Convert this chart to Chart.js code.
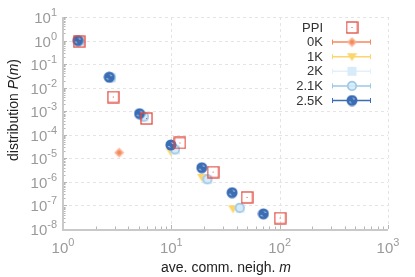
<!DOCTYPE html>
<html>
<head>
<meta charset="utf-8">
<script src="https://cdn.jsdelivr.net/npm/chart.js@4"></script>
<style>
  html, body { margin: 0; padding: 0; background: #fff; }
  #wrap { width: 415px; height: 277px; }
</style>
</head>
<body>
<div id="wrap"><canvas id="c" width="415" height="277"></canvas></div>
<script>
// data
const seriesNames = ['PPI', '0K', '1K', '2K', '2.1K', '2.5K'];

const ppiM = [1.41, 2.91, 5.9, 12.0, 24.3, 50, 101];
const ppiP = [0.9, 4.0e-3, 4.9e-4, 4.5e-5, 2.6e-6, 2.2e-7, 2.9e-8];

const k0M = [1.45, 3.3];
const k0P = [0.9, 1.74e-5];

const k1M = [1.4, 5.4, 9.9, 19.2, 37.1];
const k1P = [0.95, 6.2e-4, 1.9e-5, 1.55e-6, 7.2e-8];

const k2M = [1.43, 2.8, 5.6, 10.9, 21.7, 43.2];
const k2P = [0.93, 0.026, 5.7e-4, 2.3e-5, 1.25e-6, 7.7e-8];

const k21M = [1.42, 2.77, 5.58, 10.8, 21.5, 42.8];
const k21P = [0.95, 0.027, 5.9e-4, 2.4e-5, 1.3e-6, 7.9e-8];

const k25M = [1.37, 2.67, 5.09, 9.9, 19.1, 36.4, 70.8];
const k25P = [1.0, 0.028, 7.9e-4, 3.7e-5, 4.0e-6, 3.5e-7, 4.4e-8];

const xDecades = [0, 1, 2, 3];
const yDecades = [1, 0, -1, -2, -3, -4, -5, -6, -7, -8];

// marker images
function mk(size, draw) {
  const cv = document.createElement('canvas');
  cv.width = size; cv.height = size;
  draw(cv.getContext('2d'), size / 2);
  return cv;
}
const markers = {
  'PPI': mk(13, (g, c) => {
    g.strokeStyle = '#e2493f'; g.lineWidth = 1.3;
    g.strokeRect(1, 1, 11, 11);
    g.fillStyle = '#e2493f'; g.fillRect(c - 0.5, c - 0.5, 1, 1);
  }),
  '0K': mk(11, (g, c) => {
    g.fillStyle = '#fbb493';
    g.beginPath(); g.moveTo(c, 0.5); g.lineTo(10.5, c); g.lineTo(c, 10.5); g.lineTo(0.5, c); g.closePath(); g.fill();
    g.fillStyle = '#f58a5c';
    g.beginPath(); g.arc(c, c, 2.2, 0, Math.PI * 2); g.fill();
  }),
  '1K': mk(11, (g, c) => {
    g.fillStyle = '#fcd66a';
    g.beginPath(); g.moveTo(0.5, 2); g.lineTo(10.5, 2); g.lineTo(c, 10); g.closePath(); g.fill();
  }),
  '2K': mk(11, (g, c) => {
    g.fillStyle = '#d8ebf8';
    g.fillRect(1, 1, 9, 9);
  }),
  '2.1K': mk(12, (g, c) => {
    g.fillStyle = 'rgba(215,234,248,0.85)';
    g.beginPath(); g.arc(c, c, 5.2, 0, Math.PI * 2); g.fill();
    g.strokeStyle = '#95c4e6'; g.lineWidth = 1.4;
    g.beginPath(); g.arc(c, c, 4.2, 0, Math.PI * 2); g.stroke();
  }),
  '2.5K': mk(12, (g, c) => {
    g.fillStyle = '#3a6db4';
    g.beginPath(); g.arc(c, c, 5.5, 0, Math.PI * 2); g.fill();
    g.strokeStyle = '#ffffff'; g.lineWidth = 1;
    g.beginPath(); g.moveTo(c - 2.5, c + 1); g.lineTo(c - 1, c + 2.5); g.stroke();
    g.beginPath(); g.moveTo(c + 1, c - 2.5); g.lineTo(c + 2.5, c - 1); g.stroke();
  })
};
const lineColors = {
  '0K': '#f58a5c', '1K': '#fcd66a', '2K': '#e3f0fa', '2.1K': '#9cc7e6', '2.5K': '#3a6db4'
};

function pts(xs, ys) { return xs.map((x, i) => ({ x: x, y: ys[i] })); }

const seriesData = {
  'PPI': pts(ppiM, ppiP), '0K': pts(k0M, k0P), '1K': pts(k1M, k1P),
  '2K': pts(k2M, k2P), '2.1K': pts(k21M, k21P), '2.5K': pts(k25M, k25P)
};

// first dataset is drawn on top
const drawOrder = ['PPI', '2.5K', '2.1K', '2K', '1K', '0K'];
const datasets = drawOrder.map(name => ({
  label: name,
  data: seriesData[name],
  showLine: false,
  pointStyle: markers[name],
  pointRadius: 6,
  pointHoverRadius: 6
}));

const gray = '#9a9a9a';

const axesPlugin = {
  id: 'axesPlugin',
  beforeDatasetsDraw(chart) {
    const g = chart.ctx, a = chart.chartArea;
    const xs = chart.scales.x, ys = chart.scales.y;
    g.save();
    // dashed grid at decades
    g.strokeStyle = '#e4e4e4'; g.lineWidth = 1; g.setLineDash([3, 3]);
    xDecades.forEach(d => {
      const px = Math.round(xs.getPixelForValue(Math.pow(10, d))) + 0.5;
      g.beginPath(); g.moveTo(px, a.top); g.lineTo(px, a.bottom); g.stroke();
    });
    yDecades.forEach(d => {
      const py = Math.round(ys.getPixelForValue(Math.pow(10, d))) + 0.5;
      g.beginPath(); g.moveTo(a.left, py); g.lineTo(a.right, py); g.stroke();
    });
    g.setLineDash([]);
    // inward ticks
    g.strokeStyle = '#b5b5b5'; g.lineWidth = 1;
    xDecades.forEach(d => {
      for (let k = 1; k <= 9; k++) {
        if (d === 3 && k > 1) break;
        const px = Math.round(xs.getPixelForValue(k * Math.pow(10, d))) + 0.5;
        const len = k === 1 ? 4 : 2.5;
        g.beginPath(); g.moveTo(px, a.bottom); g.lineTo(px, a.bottom - len); g.stroke();
      }
    });
    yDecades.forEach(d => {
      for (let k = 1; k <= 9; k++) {
        if (d === 1 && k > 1) break;
        const py = Math.round(ys.getPixelForValue(k * Math.pow(10, d))) + 0.5;
        const len = k === 1 ? 4 : 2.5;
        g.beginPath(); g.moveTo(a.left, py); g.lineTo(a.left + len, py); g.stroke();
      }
    });
    // axis lines
    g.strokeStyle = '#c9c9c9'; g.lineWidth = 2;
    g.beginPath(); g.moveTo(a.left, a.top); g.lineTo(a.left, a.bottom + 1); g.lineTo(a.right, a.bottom + 1); g.stroke();

    // tick labels with superscripts
    g.fillStyle = gray;
    const big = '15px "Liberation Sans", Arial, sans-serif';
    const small = '11px "Liberation Sans", Arial, sans-serif';
    yDecades.forEach(d => {
      const py = ys.getPixelForValue(Math.pow(10, d));
      const exp = String(d).replace('-', '-');
      g.font = small; const we = g.measureText(exp).width;
      g.font = big; const wb = g.measureText('10').width;
      const right = a.left - 6;
      g.textBaseline = 'alphabetic'; g.textAlign = 'left';
      g.font = big; g.fillText('10', right - we - wb, py + 6);
      g.font = small; g.fillText(exp, right - we, py - 1);
    });
    xDecades.forEach(d => {
      const px = xs.getPixelForValue(Math.pow(10, d));
      const exp = String(d);
      g.font = small; const we = g.measureText(exp).width;
      g.font = big; const wb = g.measureText('10').width;
      const left = px - (wb + we) / 2;
      g.textAlign = 'left';
      g.font = big; g.fillText('10', left, a.bottom + 24);
      g.font = small; g.fillText(exp, left + wb, a.bottom + 17);
    });

    // axis titles
    g.fillStyle = '#222';
    g.font = '14px "Liberation Sans", Arial, sans-serif';
    const t1 = 'ave. comm. neigh. ';
    const w1 = g.measureText(t1).width;
    g.font = 'italic 14px "Liberation Sans", Arial, sans-serif';
    const w2 = g.measureText('m').width;
    const cx = (a.left + a.right) / 2 + 0.5;
    g.font = '14px "Liberation Sans", Arial, sans-serif';
    g.fillText(t1, cx - (w1 + w2) / 2, 272);
    g.font = 'italic 14px "Liberation Sans", Arial, sans-serif';
    g.fillText('m', cx - (w1 + w2) / 2 + w1, 272);

    g.translate(18, 110);
    g.rotate(-Math.PI / 2);
    const parts = [['distribution ', ''], ['P', 'italic '], ['(', ''], ['m', 'italic '], [')', '']];
    let tot = 0;
    parts.forEach(p => { g.font = p[1] + '14px "Liberation Sans", Arial, sans-serif'; tot += g.measureText(p[0]).width; });
    let x0 = -tot / 2;
    parts.forEach(p => {
      g.font = p[1] + '14px "Liberation Sans", Arial, sans-serif';
      g.fillText(p[0], x0, 0);
      x0 += g.measureText(p[0]).width;
    });
    g.restore();
  },
  afterDatasetsDraw(chart) {
    const g = chart.ctx;
    g.save();
    g.fillStyle = '#fff';
    g.fillRect(290, 19, 96, 90);
    g.font = '13px "Liberation Sans", Arial, sans-serif';
    g.textAlign = 'right'; g.textBaseline = 'middle';
    seriesNames.forEach((name, i) => {
      const y = 27.5 + i * 14.6;
      g.fillStyle = '#333';
      g.fillText(name, 323, y + 0.5);
      if (name !== 'PPI') {
        g.strokeStyle = lineColors[name]; g.lineWidth = 1.5;
        g.beginPath(); g.moveTo(332, y); g.lineTo(371, y); g.stroke();
        g.lineWidth = 1;
        g.beginPath(); g.moveTo(332.5, y - 2.5); g.lineTo(332.5, y + 2.5); g.stroke();
        g.beginPath(); g.moveTo(370.5, y - 2.5); g.lineTo(370.5, y + 2.5); g.stroke();
      }
      const m = markers[name];
      g.drawImage(m, 352 - m.width / 2, y - m.height / 2);
    });
    g.restore();
  }
};

new Chart(document.getElementById('c'), {
  type: 'scatter',
  data: { datasets: datasets },
  options: {
    responsive: false,
    animation: false,
    events: [],
    layout: { padding: { left: 63, right: 27, top: 17, bottom: 48 } },
    plugins: { legend: { display: false }, tooltip: { enabled: false } },
    scales: {
      x: { type: 'logarithmic', min: 1, max: 1000, display: false },
      y: { type: 'logarithmic', min: 1e-8, max: 10, display: false }
    }
  },
  plugins: [axesPlugin]
});
</script>
</body>
</html>
